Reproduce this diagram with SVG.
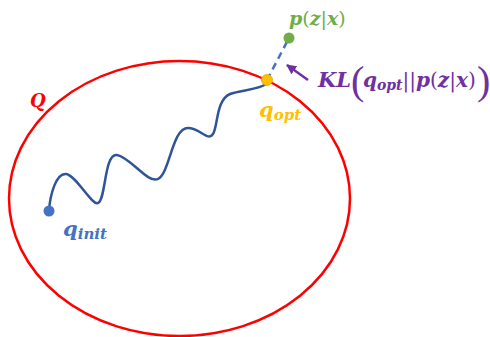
<svg xmlns="http://www.w3.org/2000/svg" width="490" height="337" viewBox="0 0 490 337">
<defs>
<style>
.t{font-family:"DejaVu Serif","Liberation Serif",serif;font-style:italic;font-weight:bold}
.u{font-style:normal;font-weight:normal}
.big{font-family:"Liberation Serif","DejaVu Serif",serif;font-weight:normal;font-size:40px;fill:#7030A0}
</style>
<marker id="ah" viewBox="0 0 10 10" refX="9" refY="5" markerWidth="4" markerHeight="4" orient="auto"><path d="M0,0 L10,5 L0,10 z" fill="#7030A0"/></marker>
</defs>
<rect width="490" height="337" fill="#fff"/>
<g id="setQ">
<ellipse cx="179.5" cy="198.5" rx="170.5" ry="137.5" fill="none" stroke="#FF0000" stroke-width="2.5"/>
<text class="t" x="30" y="107" font-size="18" fill="#FF0000">Q</text>
</g>
<g id="connectors">
<path d="M49,211 C50,195 56,173 66,174 C76,175 92,206 98,203 C106,200 104,153 117,155 C130,157 148,184 158,179 C170,173 172,128 188,128 C200,128 208,142 213,134 C218,126 216,100 230,94 C240,90 258,90 266,84" fill="none" stroke="#2F5597" stroke-width="2.5"/>
<line x1="267" y1="80" x2="289" y2="38" stroke="#4472C4" stroke-width="2.5" stroke-dasharray="7,5"/>
<line x1="308" y1="80" x2="287" y2="65" stroke="#7030A0" stroke-width="2.5" marker-end="url(#ah)"/>
</g>
<g id="qinit">
<circle cx="49" cy="211" r="5.5" fill="#4472C4"/>
<text class="t" x="63" y="236" font-size="21" fill="#4472C4">q<tspan font-size="15" dy="3">init</tspan></text>
</g>
<g id="qopt">
<circle cx="267" cy="80" r="5.5" fill="#FFC000" stroke="#E0A800" stroke-width="0.8"/>
<text class="t" x="259" y="117" font-size="21" fill="#FFC000">q<tspan font-size="15" dy="3">opt</tspan></text>
</g>
<g id="pzx">
<circle cx="289" cy="38" r="5.5" fill="#70AD47"/>
<text class="t" x="289" y="25" font-size="19" fill="#70AD47">p<tspan class="u">(</tspan>z<tspan class="u">|</tspan>x<tspan class="u">)</tspan></text>
</g>
<g id="kl">
<text class="t" x="318" y="87" font-size="21" fill="#7030A0">KL</text>
<text class="big" x="351" y="94">(</text>
<text class="t" x="363" y="87" font-size="20" fill="#7030A0">q<tspan font-size="14" dy="3">opt</tspan><tspan class="u" dy="-3">||</tspan>p<tspan class="u">(</tspan>z<tspan class="u">|</tspan>x<tspan class="u">)</tspan></text>
<text class="big" x="477" y="94">)</text>
</g>
</svg>
